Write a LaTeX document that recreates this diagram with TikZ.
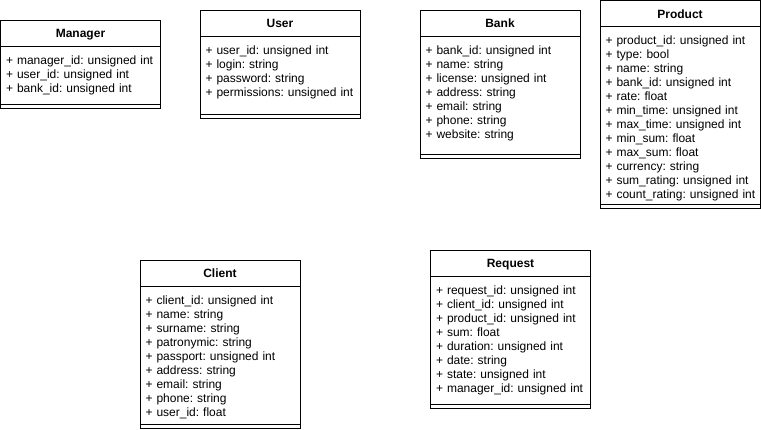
\documentclass[tikz,border=0pt]{standalone}
\usepackage{fontspec}
\setmainfont{Liberation Sans}
\usetikzlibrary{positioning}
\tikzset{
  classtitle/.style={draw,line width=1pt,anchor=north west,minimum width=160pt,minimum height=26pt,
    inner sep=0pt,outer sep=0pt,text height=9pt,text depth=0pt,font=\fontsize{12}{14}\selectfont\bfseries},
  classbody/.style={draw,line width=1pt,minimum width=160pt,inner sep=0pt,outer sep=0pt},
  classfoot/.style={draw,line width=1pt,minimum width=160pt,minimum height=4pt,inner sep=0pt,outer sep=0pt},
  attrs/.style={inner sep=0pt,outer sep=0pt,text width=160pt,align=left,
    font=\fontsize{12}{14}\selectfont\frenchspacing}
}

\begin{document}
\begin{tikzpicture}[x=1pt,y=-1pt]
    \useasboundingbox[fill=white] (0,0) rectangle (761,429);

    % Manager
    \node [classtitle] (managertitle) at (0.5,20) {Manager};
    \node [classbody, minimum height=58pt, below=0pt of managertitle] (managerbody) {};
    \node [classfoot, below=0pt of managerbody] (managerfoot) {};
    \node [attrs, below right=8.2pt and 5.5pt of managertitle.south west] (managerattrs)
      {\strut+ manager\_id: unsigned int\\ + user\_id: unsigned int\\ + bank\_id: unsigned int};

    % User
    \node [classtitle] (usertitle) at (200,10) {User};
    \node [classbody, minimum height=78pt, below=0pt of usertitle] (userbody) {};
    \node [classfoot, below=0pt of userbody] (userfoot) {};
    \node [attrs, below right=8.2pt and 5.5pt of usertitle.south west] (userattrs)
      {\strut+ user\_id: unsigned int\\ + login: string\\ + password: string\\ + permissions: unsigned int};

    % Bank
    \node [classtitle] (banktitle) at (420,10) {Bank};
    \node [classbody, minimum height=118pt, below=0pt of banktitle] (bankbody) {};
    \node [classfoot, below=0pt of bankbody] (bankfoot) {};
    \node [attrs, below right=8.2pt and 5.5pt of banktitle.south west] (bankattrs)
      {\strut+ bank\_id: unsigned int\\ + name: string\\ + license: unsigned int\\ + address: string\\
       + email: string\\ + phone: string\\ + website: string};

    % Product
    \node [classtitle] (producttitle) at (600,0.5) {Product};
    \node [classbody, minimum height=177.5pt, below=0pt of producttitle] (productbody) {};
    \node [classfoot, below=0pt of productbody] (productfoot) {};
    \node [attrs, below right=8.2pt and 5.5pt of producttitle.south west] (productattrs)
      {\strut+ product\_id: unsigned int\\ + type: bool\\ + name: string\\ + bank\_id: unsigned int\\
       + rate: float\\ + min\_time: unsigned int\\ + max\_time: unsigned int\\ + min\_sum: float\\
       + max\_sum: float\\ + currency: string\\ + sum\_rating: unsigned int\\ + count\_rating: unsigned int};

    % Client
    \node [classtitle] (clienttitle) at (140,260) {Client};
    \node [classbody, minimum height=138pt, below=0pt of clienttitle] (clientbody) {};
    \node [classfoot, below=0pt of clientbody] (clientfoot) {};
    \node [attrs, below right=8.2pt and 5.5pt of clienttitle.south west] (clientattrs)
      {\strut+ client\_id: unsigned int\\ + name: string\\ + surname: string\\ + patronymic: string\\
       + passport: unsigned int\\ + address: string\\ + email: string\\ + phone: string\\ + user\_id: float};

    % Request
    \node [classtitle] (requesttitle) at (430.5,250) {Request};
    \node [classbody, minimum height=128pt, below=0pt of requesttitle] (requestbody) {};
    \node [classfoot, below=0pt of requestbody] (requestfoot) {};
    \node [attrs, below right=8.2pt and 5.5pt of requesttitle.south west] (requestattrs)
      {\strut+ request\_id: unsigned int\\ + client\_id: unsigned int\\ + product\_id: unsigned int\\
       + sum: float\\ + duration: unsigned int\\ + date: string\\ + state: unsigned int\\
       + manager\_id: unsigned int};
\end{tikzpicture}
\end{document}
